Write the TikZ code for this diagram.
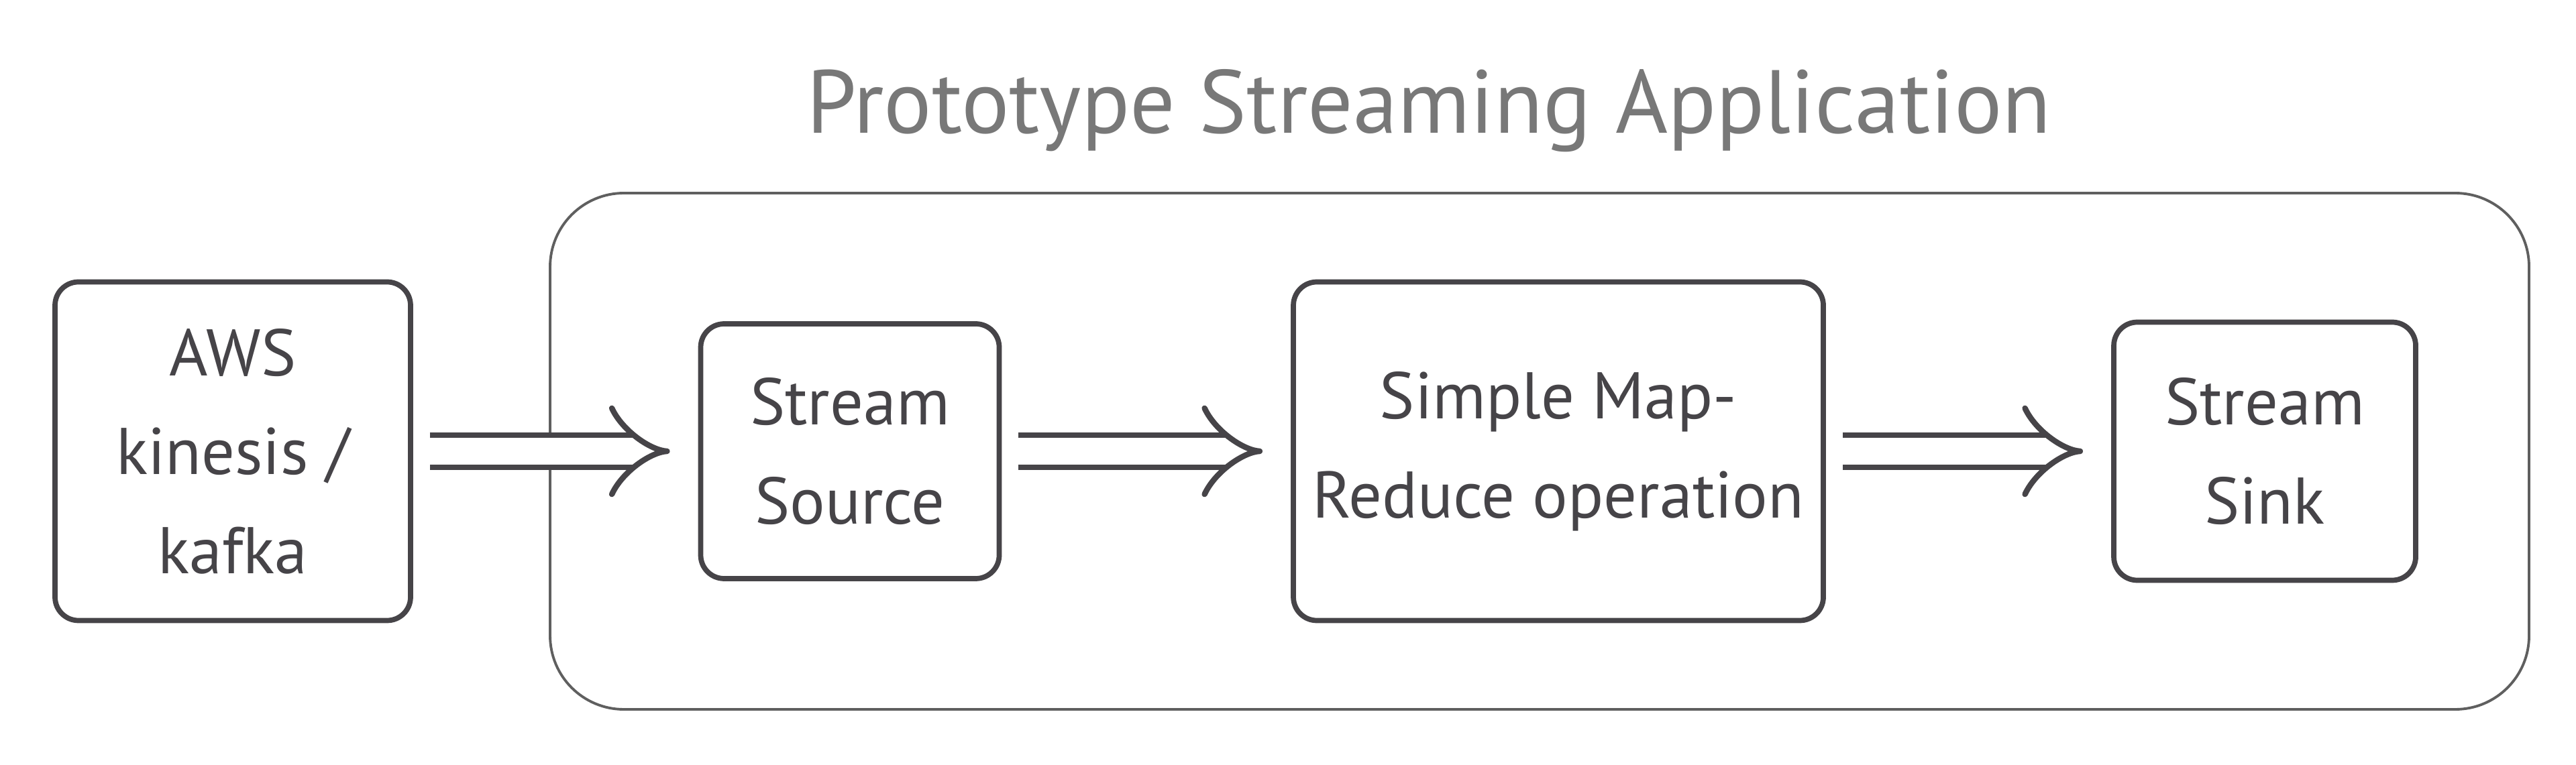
\documentclass[tikz,border=0pt]{standalone}
\usepackage{fontspec}
\setmainfont{PT Sans}
\usepackage{tikz}
\usetikzlibrary{positioning,calc,arrows.meta}
\definecolor{inkgray}{RGB}{70,68,72}
\definecolor{titlegray}{RGB}{120,120,120}
\definecolor{framegray}{RGB}{95,95,95}

\begin{document}
\begin{tikzpicture}[
    box/.style={rectangle, rounded corners=0.35cm, draw=inkgray, line width=2.2pt, align=center, inner sep=0pt, text=inkgray, font=\fontsize{28}{42}\selectfont},
    flow/.style={draw=inkgray, line width=2.4pt, double distance=0.4cm, -{Implies}, shorten <=0.25cm, shorten >=0.42cm}
]
\useasboundingbox (0,0) rectangle (38.4,11.4);

% Application frame
\node[draw=framegray, line width=1.1pt, rounded corners=1.1cm, minimum width=29.5cm, minimum height=7.7cm] (app) at (22.95,4.67) {};
\node[text=titlegray, font=\fontsize{38}{44}\selectfont] (title) at (21.3,9.75) {Prototype Streaming Application};

% Components
\node[box, minimum width=5.3cm, minimum height=5.05cm] (aws) at (3.47,4.67) {AWS\\kinesis /\\kafka};
\node[box, minimum width=4.45cm, minimum height=3.8cm] (source) at (12.67,4.67) {Stream\\Source};
\node[box, minimum width=7.9cm, minimum height=5.05cm] (mapred) at (23.23,4.67) {Simple Map-\\Reduce operation};
\node[box, minimum width=4.5cm, minimum height=3.85cm] (sink) at (33.76,4.67) {Stream\\Sink};

% Arrows
\draw[flow] (aws) -- (source);
\draw[flow] (source) -- (mapred);
\draw[flow] (mapred) -- (sink);

\end{tikzpicture}
\end{document}
